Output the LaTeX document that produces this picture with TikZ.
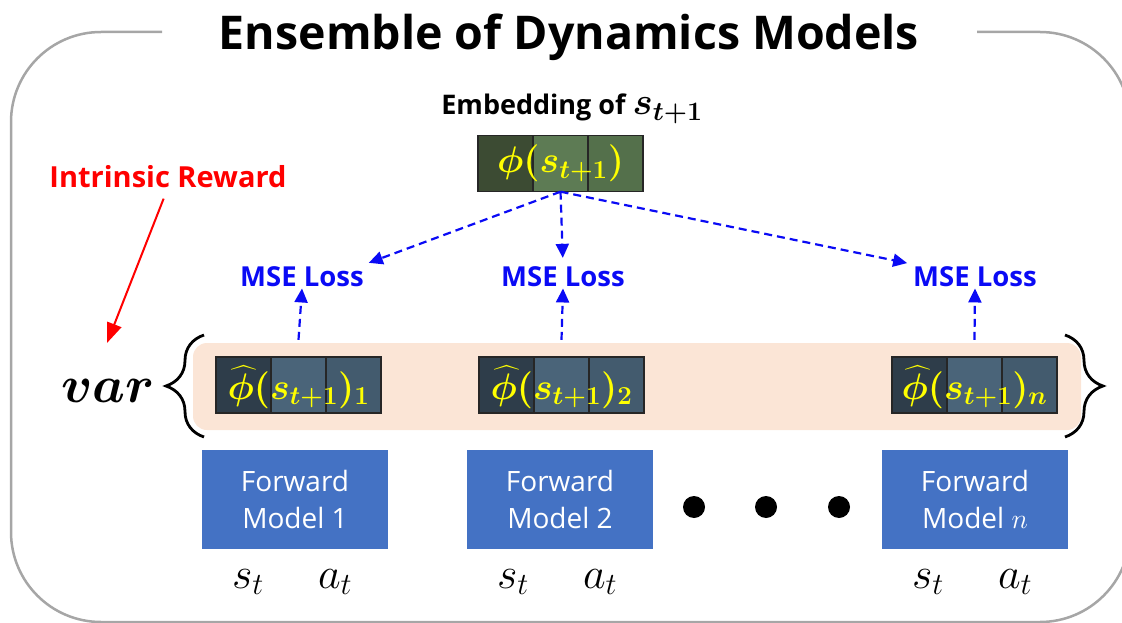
\RequirePackage{fix-cm}
\documentclass[tikz,border=0pt]{standalone}
\usepackage{amsmath}
\usepackage{fontspec}
\setmainfont{Open Sans}
\newfontfamily\lightfont{Open Sans}
\usetikzlibrary{arrows.meta,decorations.pathreplacing}

\definecolor{framegray}{HTML}{A6A6A6}
\definecolor{embA}{HTML}{3C4B33}
\definecolor{embB}{HTML}{5D7B54}
\definecolor{embC}{HTML}{54704B}
\definecolor{hatA}{HTML}{2E3D4A}
\definecolor{hatB}{HTML}{4A6479}
\definecolor{hatC}{HTML}{435B6E}
\definecolor{peach}{HTML}{FBE5D6}
\definecolor{fwdblue}{HTML}{4472C4}
\definecolor{lossblue}{HTML}{0A0AF5}
\definecolor{symyellow}{HTML}{FFFF00}

\tikzset{
  frame/.style={draw=framegray, line width=2.5pt, rounded corners=90pt},
  cell/.style={draw=black!85, line width=1.2pt, minimum width=55pt,
    minimum height=56pt, inner sep=0pt},
  cellrow/.style={minimum width=165pt, minimum height=56pt, inner sep=0pt,
    text=symyellow},
  fwdbox/.style={fill=fwdblue, minimum width=186pt, minimum height=99pt,
    inner sep=0pt, text=white, align=center,
    font=\lightfont\fontsize{28}{37}\selectfont},
  losslabel/.style={text=lossblue, inner sep=2pt,
    font=\bfseries\fontsize{27.5}{30}\selectfont},
  lossarrow/.style={draw=lossblue, line width=2.2pt,
    dash pattern=on 8pt off 5pt,
    -{Triangle[length=14pt,width=13pt]}},
  rewardarrow/.style={draw=red, line width=2pt,
    -{Triangle[length=20pt,width=15pt]}},
  bigbrace/.style={draw=black, line width=2.8pt,
    decorate, decoration={brace, amplitude=38pt}},
  inputsym/.style={inner sep=0pt, anchor=base,
    font=\fontsize{44}{46}\selectfont},
  dot/.style={circle, fill=black, minimum size=22pt, inner sep=0pt},
}

\begin{document}
\begin{tikzpicture}[x=1pt, y=-1pt]
\useasboundingbox (0,0) rectangle (1122,623);
\clip (0,0) rectangle (1122,623);

% outer frame with a gap for the heading
\coordinate (fl) at (162,32);
\coordinate (fr) at (977,32);
\draw[frame] (fl) -- (11,32) -- (11,622) -- (1130,622) -- (1130,32) -- (fr);

\node[anchor=base, inner sep=0pt, font=\bfseries\fontsize{46.5}{50}\selectfont]
  (title) at (569,50) {Ensemble of Dynamics Models};

% target embedding
\node[anchor=base, inner sep=0pt, font=\mathversion{bold}\bfseries\fontsize{27}{30}\selectfont]
  (emblabel) at (572,115)
  {Embedding of {\fontsize{38}{40}\selectfont$s_{t+1}$}};
\node[cell, fill=embA] (embA) at (505.5,163.5) {};
\node[cell, fill=embB] (embB) at (560.5,163.5) {};
\node[cell, fill=embC] (embC) at (615.5,163.5) {};
\node[cellrow, font=\fontsize{37}{39}\selectfont\boldmath] (emb) at (560.5,163.5)
  {$\phi(s_{t+1})$};

% shaded band of predictions
\node[fill=peach, rounded corners=14pt, minimum width=888pt,
  minimum height=87pt, inner sep=0pt] (band) at (637,386.5) {};

% predicted embeddings
\foreach \name/\cx/\idx in {hatone/298.5/1, hattwo/561.5/2, hatn/974.5/n}{
  \node[cell, fill=hatA] (\name A) at (\cx-55,385) {};
  \node[cell, fill=hatB] (\name B) at (\cx,385) {};
  \node[cell, fill=hatC] (\name C) at (\cx+55,385) {};
  \node[cellrow, font=\fontsize{37}{39}\selectfont\boldmath] (\name) at (\cx,387)
    {$\widehat{\phi}(s_{t+1})_{\idx}$};
}

% loss labels
\node[losslabel, anchor=base] (lossone) at (302,286) {MSE Loss};
\node[losslabel, anchor=base] (losstwo) at (563,286) {MSE Loss};
\node[losslabel, anchor=base] (lossn) at (975,286) {MSE Loss};

\draw[lossarrow, shorten >=3pt] (emb.south) -- (lossone.north east);
\draw[lossarrow, shorten >=6pt] (emb.south) -- (losstwo.north);
\draw[lossarrow, shorten >=4pt] (emb.south) -- (lossn.north west);

\draw[lossarrow] ([yshift=19pt]hatone.north) -- (lossone.south);
\draw[lossarrow] ([yshift=19pt]hattwo.north) -- (losstwo.south);
\draw[lossarrow] ([yshift=19pt]hatn.north) -- (lossn.south);

% variance over the ensemble
\coordinate (lbtop) at (204,335);
\coordinate (lbbot) at (204,437);
\coordinate (rbtop) at (1065,335);
\coordinate (rbbot) at (1065,437);
\draw[bigbrace] (lbbot) -- (lbtop);
\draw[bigbrace] (rbtop) -- (rbbot);

\node[anchor=base, inner sep=0pt, font=\fontsize{52}{56}\selectfont\boldmath]
  (var) at (108,402) {$var$};

\node[anchor=base, inner sep=0pt, text=red,
  font=\bfseries\fontsize{29}{31}\selectfont]
  (reward) at (168,187) {Intrinsic Reward};
\coordinate (rewardtip) at (107,343);
\draw[rewardarrow, shorten <=12pt] (reward.south) -- (rewardtip);

% forward models and their inputs
\node[fwdbox] (fwdone) at (295,499.5) {Forward\\Model 1};
\node[fwdbox] (fwdtwo) at (560,499.5) {Forward\\Model 2};
\node[fwdbox] (fwdn) at (975,499.5) {Forward\\Model $n$};

\foreach \name/\cx in {one/295, two/560, n/975}{
  \node[inputsym] (s\name) at (\cx-47,588) {$s_t$};
  \node[inputsym] (a\name) at (\cx+40,588) {$a_t$};
}

\node[dot] (dotA) at (694,507) {};
\node[dot] (dotB) at (766,507) {};
\node[dot] (dotC) at (839,507) {};
\end{tikzpicture}
\end{document}
